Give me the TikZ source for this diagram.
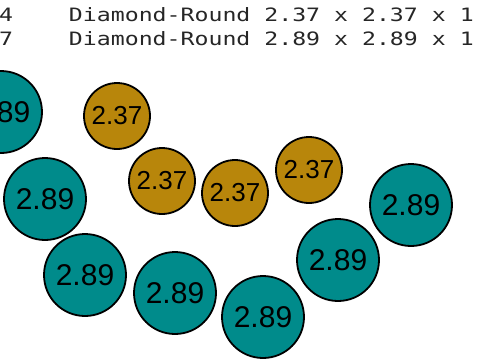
\documentclass[tikz,border=0pt]{standalone}
\usepackage{xcolor}
\usepackage{fontspec}
\newfontfamily\rowfont{DejaVu Sans Mono}[FakeStretch=1.26]
\newfontfamily\discfont{Liberation Sans}
\usetikzlibrary{positioning}
\definecolor{discteal}{RGB}{0,139,139}
\definecolor{discgold}{RGB}{184,134,11}
\tikzset{%
  every disc/.style={
    circle,
    draw=black,
    line width=1.8pt,
    inner sep=0pt
  },
  big disc/.style={
    every disc,
    fill=discteal,
    minimum size=82pt,
    font=\discfont\fontsize{30}{30}\selectfont
  },
  small disc/.style={
    every disc,
    fill=discgold,
    minimum size=66pt,
    font=\discfont\fontsize{26}{26}\selectfont
  },
  row label/.style={
    anchor=base west,
    inner sep=0pt,
    text=black!85,
    font=\rowfont\fontsize{18.4}{22}\selectfont
  },
}

\begin{document}
\begin{tikzpicture}[x=1pt,y=-1pt]
    \useasboundingbox (0,0) rectangle (480,360);
    \clip (0,0) rectangle (480,360);

    \node (row4) [row label] at (-1,21) {4\ \ \ \ Diamond-Round 2.37 x 2.37 x 1};
    \node (row7) [row label] at (-1,45) {7\ \ \ \ Diamond-Round 2.89 x 2.89 x 1};

    % teal discs
    \node (t1) [big disc] at (1,112) {2.89};
    \node (t2) [big disc] at (45,199) {2.89};
    \node (t3) [big disc] at (85,275) {2.89};
    \node (t4) [big disc] at (175,293) {2.89};
    \node (t5) [big disc] at (263,317) {2.89};
    \node (t6) [big disc] at (338,260) {2.89};
    \node (t7) [big disc] at (411,205) {2.89};

    % gold discs
    \node (g1) [small disc] at (117,116) {2.37};
    \node (g2) [small disc] at (162,181) {2.37};
    \node (g3) [small disc] at (235,193) {2.37};
    \node (g4) [small disc] at (309,170) {2.37};
\end{tikzpicture}
\end{document}
